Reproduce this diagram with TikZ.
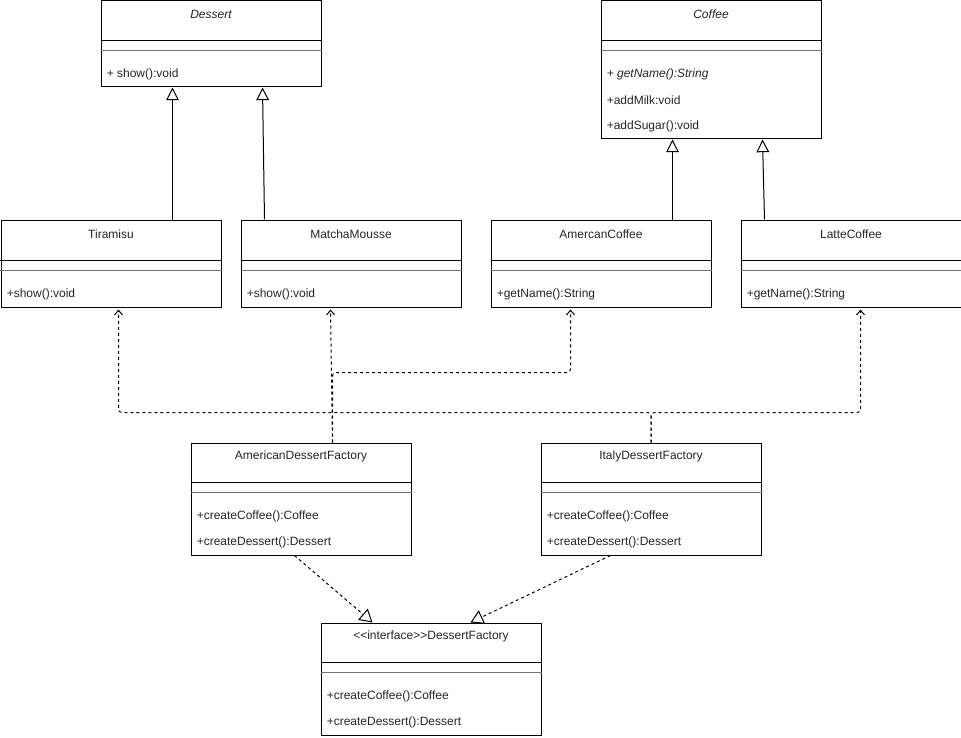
\documentclass[tikz,border=0pt]{standalone}
\usepackage{fontspec}
\setmainfont{Liberation Sans}
\usetikzlibrary{arrows.meta,calc}
\newcommand{\umlbox}[5]{%
  \node[box, minimum height=#4*0.75pt] (#1) at (#2,#3) {};
  \draw[sepline] ($(#1.north west)+(0,40)$) -- ($(#1.north east)+(0,40)$);
  \draw[thicksep] ($(#1.north west)+(0,50)$) -- ($(#1.north east)+(0,50)$);
  \node[titletext] (#1-t) at ($(#1.north)+(0,14)$) {#5};
}
\begin{document}
\begin{tikzpicture}[x=0.75pt,y=-0.75pt,
  font=\fontsize{9pt}{11pt}\selectfont,
  box/.style={draw, line width=0.75pt, inner sep=0, anchor=north west, minimum width=165pt, fill=white},
  sepline/.style={line width=0.75pt},
  thicksep/.style={line width=1.2pt, draw=black!55},
  titletext/.style={inner sep=0, anchor=center, text=black!85},
  itemtext/.style={inner sep=0, anchor=west, text=black!85},
  inherit/.style={line width=0.75pt, -{Triangle[open, fill=white, length=9.5pt, width=9.5pt]}},
  dep/.style={line width=0.75pt, dash pattern=on 2.25pt off 2.25pt, rounded corners=2.5pt, -{Straight Barb[length=3.5pt, width=6pt]}},
  realize/.style={line width=0.75pt, dash pattern=on 2.25pt off 2.25pt, -{Triangle[open, fill=white, length=9.5pt, width=11pt]}},
]
\useasboundingbox (0,0) rectangle (961,738);

% classes
\umlbox{dessert}{100.5}{0.5}{86}{\itshape Dessert}
\node[itemtext] (dessert-1) at ($(dessert.north west)+(6,74)$) {+ show():void};

\umlbox{coffee}{600.5}{0.5}{138}{\itshape Coffee}
\node[itemtext] (coffee-1) at ($(coffee.north west)+(6,74)$) {\itshape + getName():String};
\node[itemtext] (coffee-2) at ($(coffee.north west)+(6,100)$) {+addMilk:void};
\node[itemtext] (coffee-3) at ($(coffee.north west)+(6,126)$) {+addSugar():void};

\umlbox{tiramisu}{0.5}{220.5}{86}{Tiramisu}
\node[itemtext] (tiramisu-1) at ($(tiramisu.north west)+(6,74)$) {+show():void};

\umlbox{matcha}{240.5}{220.5}{86}{MatchaMousse}
\node[itemtext] (matcha-1) at ($(matcha.north west)+(6,74)$) {+show():void};

\umlbox{amcoffee}{490.5}{220.5}{86}{AmercanCoffee}
\node[itemtext] (amcoffee-1) at ($(amcoffee.north west)+(6,74)$) {+getName():String};

\umlbox{latte}{740.5}{220.5}{86}{LatteCoffee}
\node[itemtext] (latte-1) at ($(latte.north west)+(6,74)$) {+getName():String};

\umlbox{american}{190.5}{442.5}{112}{AmericanDessertFactory}
\node[itemtext] (american-1) at ($(american.north west)+(6,74)$) {+createCoffee():Coffee};
\node[itemtext] (american-2) at ($(american.north west)+(6,100)$) {+createDessert():Dessert};

\umlbox{italy}{540.5}{442.5}{112}{ItalyDessertFactory}
\node[itemtext] (italy-1) at ($(italy.north west)+(6,74)$) {+createCoffee():Coffee};
\node[itemtext] (italy-2) at ($(italy.north west)+(6,100)$) {+createDessert():Dessert};

\umlbox{iface}{320.5}{622.5}{112}{<\kern0pt<interface>\kern0pt>DessertFactory}
\node[itemtext] (iface-1) at ($(iface.north west)+(6,74)$) {+createCoffee():Coffee};
\node[itemtext] (iface-2) at ($(iface.north west)+(6,100)$) {+createDessert():Dessert};

% inheritance
\draw[inherit] ($(tiramisu.north west)+(172,0)$) -- ($(dessert.south west)+(72,0)$);
\draw[inherit] ($(matcha.north west)+(24,-1)$) -- ($(dessert.south west)+(162,0)$);
\draw[inherit] ($(amcoffee.north west)+(182,0)$) -- ($(coffee.south west)+(72,0)$);
\draw[inherit] ($(latte.north west)+(24,-1)$) -- ($(coffee.south west)+(162,0)$);

% dependencies
\coordinate (a1) at ($(american.north west)+(142,0)$);
\draw[dep] (a1) -- ($(matcha.south west)+(90,2)$);
\draw[dep] (a1) -- ++(0,-70) -| ($(amcoffee.south west)+(80,2)$);
\draw[dep] (italy.north) -- ++(0,-30) -| ($(tiramisu.south west)+(118,2)$);
\draw[dep] (italy.north) -- ++(0,-30) -| ($(latte.south west)+(120,2)$);

% realizations
\draw[realize] ($(american.south west)+(104,0)$) -- ($(iface.north west)+(52,0)$);
\draw[realize] ($(italy.south west)+(70,0)$) -- ($(iface.north west)+(150,0)$);
\end{tikzpicture}
\end{document}
